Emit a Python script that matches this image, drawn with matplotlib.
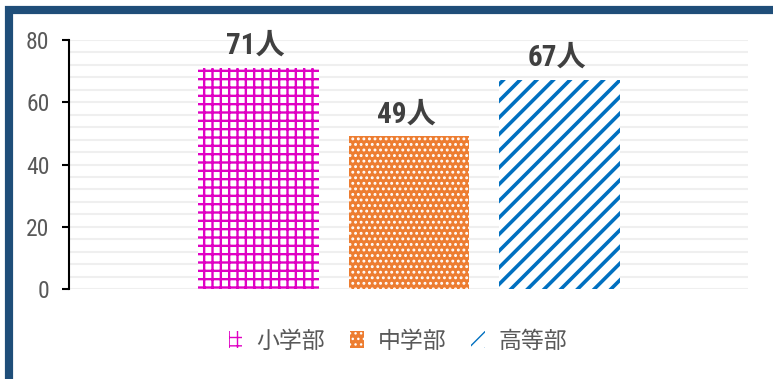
import matplotlib
matplotlib.use("Agg")
import matplotlib.pyplot as plt
from matplotlib import font_manager
from matplotlib.patches import Rectangle, Patch

# ---- data ----
categories = ["小学部", "中学部", "高等部"]
values = [71, 49, 67]
labels = ["71人", "49人", "67人"]
yticks = [0, 20, 40, 60, 80]

avail = {f.name for f in font_manager.fontManager.ttflist}
narrow = next((n for n in ["Roboto Condensed", "PT Sans Narrow", "Archivo Narrow", "Roboto"]
               if n in avail), "DejaVu Sans")
CJK = "Noto Sans CJK JP"

face = ["white", "#ED7D31", "white"]
hcol = ["#E000C4", "white", "#0070C0"]
hatches = ["++", "...", "//"]
hlw = [1.7, 1.3, 2.6]

fig = plt.figure(figsize=(7.73, 3.79), dpi=100)
ax = fig.add_axes([69/773, 1-289/379, (748-69)/773, (289-40)/379])

xs = [0, 1, 2]
for i in range(3):
    with plt.rc_context({"hatch.linewidth": hlw[i]}):
        ax.bar(xs[i], values[i], width=0.8, color=face[i], edgecolor=hcol[i],
               hatch=hatches[i], linewidth=0, zorder=3, label=categories[i])
    ax.annotate(labels[i], (xs[i], values[i]), xytext=(-2, 6), textcoords="offset points",
                ha="center", va="bottom", fontsize=21, fontweight="bold", color="#404040",
                family=[narrow, CJK])

ax.set_xlim(-1.258, 3.253)
ax.set_ylim(0, 80)
ax.set_yticks(yticks)
ax.set_yticks(range(0, 81, 4), minor=True)
ax.grid(True, which="both", axis="y", color="#EFEFEF", linewidth=1.5, zorder=0)
ax.set_xticks([])
for s in ["top", "right", "bottom"]:
    ax.spines[s].set_visible(False)
ax.spines["left"].set_linewidth(1.5)
ax.spines["left"].set_color("black")
ax.tick_params(axis="y", which="major", direction="out", length=5, width=1.5,
               color="black", pad=9, labelsize=17, labelcolor="#595959")
ax.tick_params(axis="y", which="minor", length=0)
for t in ax.get_yticklabels():
    t.set_family([narrow, "DejaVu Sans"])

handles = []
for i in range(3):
    with plt.rc_context({"hatch.linewidth": hlw[i]}):
        handles.append(Patch(facecolor=face[i], edgecolor=hcol[i], hatch=hatches[i],
                             linewidth=0, label=categories[i]))
leg = fig.legend(handles=handles, loc="center", bbox_to_anchor=(398/773, 1-341/379),
                 ncol=3, frameon=False, handlelength=0.6, handleheight=0.75,
                 handletextpad=0.6, columnspacing=1.1,
                 prop={"family": [CJK], "size": 16.5})
for t in leg.get_texts():
    t.set_color("#595959")

fig.patches.append(Rectangle((9/773, -0.0053), 1.2, 0.9736 + 0.0053,
                             transform=fig.transFigure, fill=False,
                             edgecolor="#1F4E79", linewidth=5.9, clip_on=False))

fig.savefig("out.png", dpi=100)
